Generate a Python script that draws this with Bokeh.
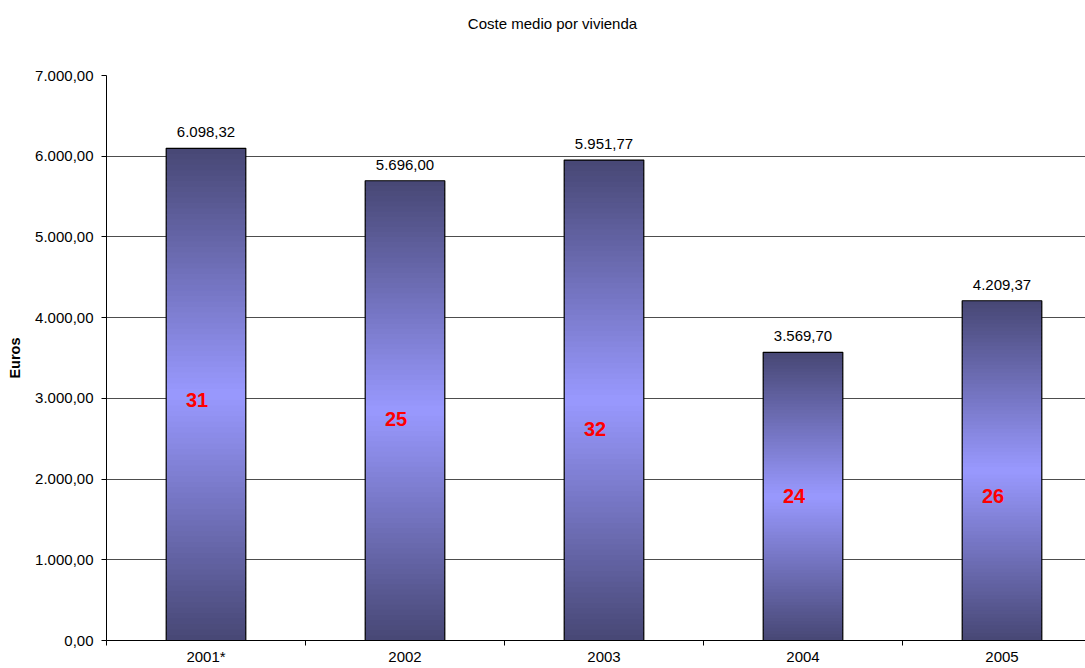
from bokeh.plotting import figure
from bokeh.models import Range1d, FixedTicker, LabelSet, ColumnDataSource, LinearAxis
from bokeh.core.properties import value
from bokeh.embed import file_html
from bokeh.resources import INLINE

# ---- data ----
title_text = "Coste medio por vivienda"
categories = ["2001*", "2002", "2003", "2004", "2005"]
coste = [6098.32, 5696.00, 5951.77, 3569.70, 4209.37]
viviendas = [31, 25, 32, 24, 26]
viviendas_y = [2975, 2745, 2620, 1793, 1793]
y_ticks = [0, 1000, 2000, 3000, 4000, 5000, 6000, 7000]


def fmt_es(v):
    s = f"{v:,.2f}"
    return s.replace(",", "X").replace(".", ",").replace("X", ".")


FONT = value("Liberation Sans")
centers = [i + 0.5 for i in range(len(categories))]
bar_w = 0.4

W, H = 1085, 668
LEFT, TOP, BOTTOM = 106, 75, 28
CAT_PX = 199
p = figure(width=W, height=H, x_range=Range1d(0, (W - LEFT) / CAT_PX), y_range=Range1d(0, 7000),
           output_backend="svg", toolbar_location=None,
           min_border_left=LEFT, min_border_right=0, min_border_top=TOP, min_border_bottom=BOTTOM)
p.outline_line_color = None
p.background_fill_color = "white"
p.border_fill_color = "white"

# ---- title (as a single label of a bare axis above the plot) ----
title_x = (552 - LEFT) / CAT_PX
tax = LinearAxis(ticker=FixedTicker(ticks=[title_x], minor_ticks=[]),
                 major_label_overrides={title_x: title_text})
tax.axis_line_color = None
tax.major_tick_line_color = None
tax.minor_tick_line_color = None
tax.major_tick_out = 0
tax.major_tick_in = 0
tax.major_label_standoff = 44
tax.major_label_text_font = "Liberation Sans"
tax.major_label_text_font_size = "15px"
tax.major_label_text_color = "black"
p.add_layout(tax, "above")

# ---- gradient bars (many thin slices per bar) ----
edge = (71, 71, 116)
mid = (153, 153, 255)
N = 90
L, R, B, T, C = [], [], [], [], []
for cx, v in zip(centers, coste):
    h = v / N
    for i in range(N):
        t = (i + 0.5) / N
        d = abs(t - 0.5) * 2
        col = tuple(int(round(m + (e - m) * d)) for m, e in zip(mid, edge))
        L.append(cx - bar_w / 2)
        R.append(cx + bar_w / 2)
        B.append(i * h)
        T.append(min(v, (i + 1) * h + h * 0.6))
        C.append("#%02x%02x%02x" % col)
p.quad(left=L, right=R, bottom=B, top=T, fill_color=C, line_color=None)
p.quad(left=[c - bar_w / 2 for c in centers], right=[c + bar_w / 2 for c in centers],
       bottom=[0] * len(coste), top=coste, fill_color=None, line_color="black", line_width=1.2)

# ---- labels ----
src = ColumnDataSource(dict(x=centers, y=coste, txt=[fmt_es(v) for v in coste],
                            ny=viviendas_y, ntxt=[str(n) for n in viviendas]))
p.add_layout(LabelSet(x="x", y="y", text="txt", source=src, text_align="center",
                      text_baseline="middle", y_offset=16, text_font=FONT,
                      text_font_size="15px", text_color="black"))
p.add_layout(LabelSet(x="x", y="ny", text="ntxt", source=src, text_align="center",
                      text_baseline="middle", x_offset=-9, text_font=FONT,
                      text_font_size="20px", text_font_style="bold", text_color="#ff0000"))

# ---- axes ----
xax = p.below[0]
xax.ticker = FixedTicker(ticks=centers, minor_ticks=[0, 1, 2, 3, 4, 5])
xax.major_label_overrides = {c: n for c, n in zip(centers, categories)}
xax.major_label_text_font = "Liberation Sans"
xax.major_label_text_font_size = "15px"
xax.major_label_text_color = "black"
xax.major_label_standoff = 2
xax.major_tick_out = 0
xax.major_tick_in = 0
xax.minor_tick_out = 5
xax.minor_tick_in = 0
xax.minor_tick_line_color = "black"
xax.axis_line_color = "black"

yax = p.left[0]
yax.ticker = FixedTicker(ticks=y_ticks, minor_ticks=[])
yax.major_label_overrides = {t: fmt_es(t) for t in y_ticks}
yax.major_tick_out = 5
yax.major_tick_in = 0
yax.major_tick_line_color = "black"
yax.major_label_standoff = 8
yax.major_label_text_font = "Liberation Sans"
yax.major_label_text_font_size = "15px"
yax.major_label_text_color = "black"
yax.axis_line_color = "black"
yax.axis_label = "Euros"
yax.axis_label_text_font = "Liberation Sans"
yax.axis_label_text_font_size = "14.5px"
yax.axis_label_text_font_style = "bold"
yax.axis_label_text_color = "black"
yax.axis_label_standoff = 9

p.xgrid.visible = False
p.ygrid.ticker = FixedTicker(ticks=y_ticks)
p.ygrid.grid_line_color = "#4d4d4d"
p.ygrid.grid_line_width = 1

open("out.html", "w").write(file_html(p, INLINE))
